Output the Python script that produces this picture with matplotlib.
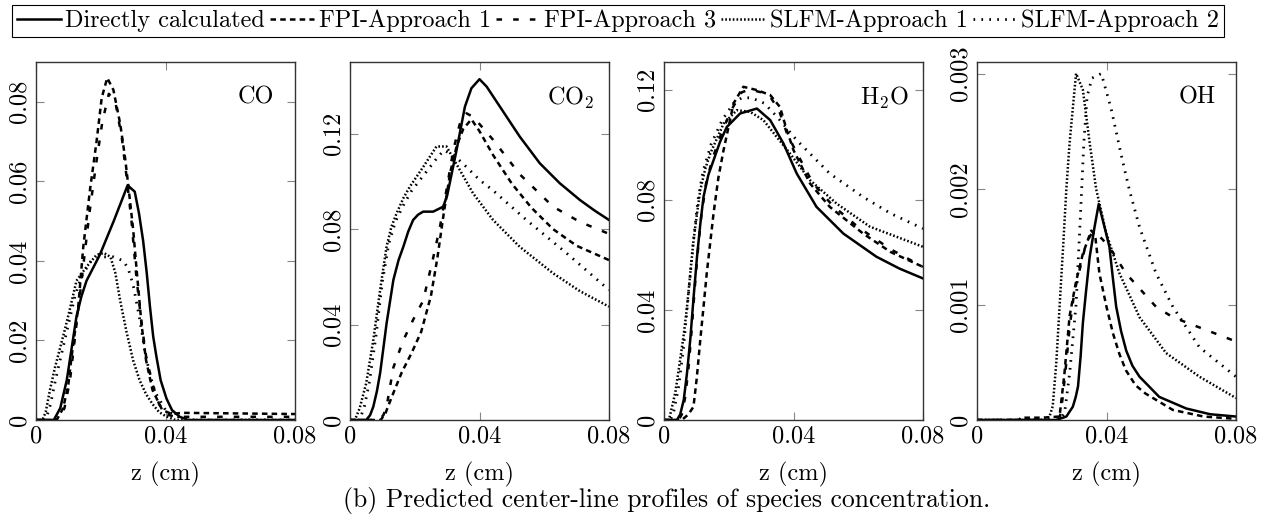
import numpy as np
import matplotlib
matplotlib.use("Agg")
import matplotlib.pyplot as plt

plt.rcParams['font.family'] = ['cmr10', 'DejaVu Serif']
plt.rcParams['mathtext.fontset'] = 'cm'
plt.rcParams['axes.formatter.use_mathtext'] = True
plt.rcParams['lines.scale_dashes'] = False

# series order: Directly calculated, FPI-Approach 1, FPI-Approach 3, SLFM-Approach 1, SLFM-Approach 2
labels = ["Directly calculated", "FPI-Approach 1", "FPI-Approach 3",
          "SLFM-Approach 1", "SLFM-Approach 2"]

# ---- CO (z [cm], mass fraction) ----
co_direct = [(0, 0), (0.0055, 0), (0.0075, 0.003), (0.0095, 0.010), (0.011, 0.018), (0.0125, 0.026),
             (0.014, 0.031), (0.0156, 0.035), (0.0197, 0.0415), (0.024, 0.050), (0.0283, 0.059),
             (0.0305, 0.0574), (0.0318, 0.052), (0.0331, 0.045), (0.0342, 0.037), (0.0352, 0.0285),
             (0.0362, 0.021), (0.0372, 0.0159), (0.0385, 0.010), (0.0403, 0.0054), (0.042, 0.0025),
             (0.0444, 0.0008), (0.047, 0), (0.08, 0)]
co_fpi1 = [(0, 0), (0.0064, 0), (0.0084, 0.003), (0.0100, 0.009), (0.011, 0.016), (0.012, 0.022),
           (0.013, 0.028), (0.0146, 0.0435), (0.0167, 0.058), (0.0187, 0.070), (0.0203, 0.081),
           (0.022, 0.086), (0.0239, 0.083), (0.026, 0.0745), (0.0275, 0.066), (0.0285, 0.059),
           (0.030, 0.048), (0.031, 0.0385), (0.0326, 0.024), (0.034, 0.015), (0.036, 0.0075),
           (0.039, 0.0025), (0.042, 0.0015), (0.045, 0.0018), (0.08, 0.0015)]
co_fpi3 = [(0, 0), (0.0068, 0), (0.0088, 0.003), (0.0105, 0.010), (0.0125, 0.024), (0.0145, 0.038),
           (0.0165, 0.052), (0.0185, 0.064), (0.0205, 0.075), (0.0225, 0.082), (0.0245, 0.080),
           (0.0265, 0.071), (0.028, 0.061), (0.0295, 0.050), (0.031, 0.036), (0.0325, 0.025),
           (0.034, 0.016), (0.036, 0.009), (0.038, 0.004), (0.040, 0.0015), (0.043, 0.0008),
           (0.08, 0.0008)]
co_slfm1 = [(0, 0), (0.002, 0), (0.003, 0.002), (0.0043, 0.0075), (0.0058, 0.013), (0.0074, 0.018),
            (0.009, 0.023), (0.0105, 0.028), (0.0125, 0.035), (0.0156, 0.0385), (0.0187, 0.0415),
            (0.021, 0.042), (0.023, 0.041), (0.0245, 0.037), (0.026, 0.030), (0.028, 0.022),
            (0.030, 0.015), (0.032, 0.010), (0.034, 0.0065), (0.036, 0.004), (0.038, 0.002),
            (0.040, 0.001), (0.043, 0), (0.08, 0)]
co_slfm2 = [(0, 0), (0.003, 0), (0.0045, 0.004), (0.006, 0.010), (0.008, 0.017), (0.010, 0.024),
            (0.012, 0.031), (0.014, 0.036), (0.017, 0.040), (0.020, 0.041), (0.024, 0.041),
            (0.027, 0.040), (0.0285, 0.038), (0.030, 0.034), (0.0319, 0.026), (0.0339, 0.016),
            (0.036, 0.009), (0.037, 0.0067), (0.040, 0.0025), (0.044, 0.0008), (0.048, 0), (0.08, 0)]

# ---- CO2 ----
co2_direct = [(0, 0), (0.005, 0), (0.0062, 0.002), (0.0072, 0.0056), (0.0083, 0.012), (0.0093, 0.0196),
              (0.0103, 0.030), (0.0113, 0.0405), (0.0124, 0.050), (0.0134, 0.0587), (0.015, 0.067),
              (0.0165, 0.0727), (0.018, 0.079), (0.0195, 0.0838), (0.021, 0.086), (0.0226, 0.0873),
              (0.0257, 0.0873), (0.0288, 0.0894), (0.030, 0.094), (0.0308, 0.0992), (0.0329, 0.113),
              (0.0355, 0.1313), (0.0375, 0.139), (0.040, 0.1428), (0.0422, 0.1397), (0.0463, 0.1313),
              (0.0524, 0.1188), (0.0586, 0.1076), (0.0648, 0.0992), (0.071, 0.0922), (0.0755, 0.0878),
              (0.08, 0.0838)]
co2_fpi1 = [(0, 0), (0.0095, 0), (0.011, 0.003), (0.013, 0.010), (0.016, 0.020), (0.019, 0.028),
            (0.022, 0.037), (0.025, 0.052), (0.027, 0.068), (0.029, 0.087), (0.031, 0.104),
            (0.033, 0.115), (0.035, 0.122), (0.0375, 0.126), (0.040, 0.121), (0.0442, 0.111),
            (0.050, 0.099), (0.056, 0.089), (0.0627, 0.080), (0.070, 0.073), (0.08, 0.067)]
co2_fpi3 = [(0, 0), (0.009, 0), (0.0103, 0.002), (0.0113, 0.0056), (0.0134, 0.022), (0.0165, 0.0335),
            (0.0195, 0.042), (0.0226, 0.050), (0.0257, 0.068), (0.0278, 0.081), (0.0298, 0.0964),
            (0.0319, 0.113), (0.0339, 0.124), (0.036, 0.1285), (0.038, 0.127), (0.040, 0.124),
            (0.0442, 0.1174), (0.0524, 0.103), (0.0627, 0.0894), (0.071, 0.083), (0.08, 0.078)]
co2_slfm1 = [(0, 0), (0.0015, 0), (0.003, 0.005), (0.005, 0.0154), (0.0072, 0.0335), (0.0093, 0.0545),
             (0.0113, 0.0727), (0.0128, 0.081), (0.0144, 0.0866), (0.0165, 0.093), (0.0185, 0.0978),
             (0.0226, 0.106), (0.0267, 0.1146), (0.0298, 0.1146), (0.0339, 0.1048), (0.038, 0.095),
             (0.0442, 0.0838), (0.0524, 0.0726), (0.0627, 0.0615), (0.071, 0.054), (0.08, 0.0475)]
co2_slfm2 = [(0, 0), (0.003, 0), (0.0045, 0.006), (0.006, 0.016), (0.008, 0.035), (0.010, 0.058),
             (0.012, 0.074), (0.014, 0.083), (0.0165, 0.090), (0.019, 0.096), (0.023, 0.103),
             (0.027, 0.110), (0.029, 0.113), (0.032, 0.111), (0.036, 0.106), (0.040, 0.1006),
             (0.044, 0.0964), (0.0545, 0.0838), (0.0668, 0.070), (0.08, 0.0545)]

# ---- H2O ----
h2o_direct = [(0, 0), (0.004, 0), (0.005, 0.002), (0.0061, 0.0073), (0.0071, 0.017), (0.0081, 0.029),
              (0.0091, 0.044), (0.0102, 0.0593), (0.0112, 0.071), (0.0122, 0.081), (0.0137, 0.089),
              (0.0153, 0.0943), (0.0173, 0.101), (0.0194, 0.1064), (0.0235, 0.1113), (0.0287, 0.1131),
              (0.0328, 0.1089), (0.0369, 0.1004), (0.041, 0.0895), (0.0471, 0.0774), (0.0554, 0.0677),
              (0.0656, 0.0593), (0.0727, 0.055), (0.08, 0.0514)]
h2o_fpi1 = [(0, 0), (0.0055, 0), (0.0075, 0.002), (0.0091, 0.0048), (0.0101, 0.015), (0.0112, 0.029),
            (0.0122, 0.041), (0.0132, 0.0532), (0.0153, 0.075), (0.0168, 0.088), (0.0184, 0.098),
            (0.0215, 0.115), (0.0245, 0.121), (0.0287, 0.1198), (0.0328, 0.118), (0.0358, 0.1137),
            (0.038, 0.105), (0.040, 0.098), (0.0451, 0.0859), (0.0512, 0.0774), (0.0615, 0.0677),
            (0.070, 0.061), (0.08, 0.0556)]
h2o_fpi3 = [(0, 0), (0.0045, 0), (0.0055, 0.002), (0.0065, 0.008), (0.0075, 0.018), (0.0085, 0.032),
            (0.0095, 0.048), (0.0105, 0.062), (0.0115, 0.074), (0.013, 0.086), (0.015, 0.095),
            (0.018, 0.105), (0.021, 0.113), (0.024, 0.119), (0.0265, 0.120), (0.030, 0.119),
            (0.033, 0.117), (0.0355, 0.1125), (0.038, 0.104), (0.041, 0.097), (0.046, 0.086),
            (0.052, 0.078), (0.060, 0.070), (0.070, 0.062), (0.08, 0.0556)]
h2o_slfm1 = [(0, 0), (0.0015, 0), (0.002, 0.0024), (0.0035, 0.010), (0.005, 0.022), (0.0061, 0.031),
             (0.0071, 0.041), (0.0081, 0.053), (0.0091, 0.065), (0.0102, 0.075), (0.0112, 0.0835),
             (0.0127, 0.091), (0.0143, 0.0968), (0.0184, 0.1076), (0.0225, 0.1125), (0.0266, 0.1119),
             (0.0307, 0.1089), (0.0348, 0.1028), (0.0389, 0.0968), (0.0451, 0.0871), (0.0533, 0.0786),
             (0.0636, 0.0702), (0.08, 0.0629)]
h2o_slfm2 = [(0, 0), (0.002, 0), (0.003, 0.003), (0.0045, 0.012), (0.006, 0.026), (0.0075, 0.045),
             (0.009, 0.064), (0.0105, 0.080), (0.012, 0.090), (0.0145, 0.100), (0.018, 0.109),
             (0.0215, 0.115), (0.024, 0.117), (0.027, 0.117), (0.031, 0.115), (0.035, 0.110),
             (0.041, 0.1016), (0.0512, 0.0895), (0.0615, 0.081), (0.070, 0.075), (0.08, 0.0695)]

# ---- OH ----
oh_direct = [(0, 0), (0.0245, 0), (0.0276, 0.00003), (0.0296, 0.000115), (0.0305, 0.0002),
             (0.0312, 0.00029), (0.032, 0.00055), (0.0327, 0.00084), (0.0337, 0.00112),
             (0.0348, 0.00141), (0.0363, 0.00167), (0.0376, 0.00187), (0.0394, 0.00167),
             (0.0409, 0.0015), (0.042, 0.00122), (0.043, 0.00098), (0.0445, 0.00077),
             (0.0461, 0.0006), (0.048, 0.00047), (0.0502, 0.000375), (0.0563, 0.0002),
             (0.0646, 0.0001), (0.072, 0.00005), (0.08, 0.00003)]
oh_fpi1 = [(0, 0), (0.013, 0), (0.0135, 0.00002), (0.020, 0.00002), (0.0255, 0.00003), (0.027, 0.0004),
           (0.0286, 0.0009), (0.0306, 0.0012), (0.0327, 0.00144), (0.0353, 0.00164), (0.0365, 0.0016),
           (0.0378, 0.00127), (0.040, 0.00098), (0.042, 0.00075), (0.044, 0.00057), (0.046, 0.00043),
           (0.049, 0.0003), (0.052, 0.00023), (0.0605, 0.000087), (0.070, 0.00003), (0.08, 0.00001)]
oh_fpi3 = [(0, 0), (0.0255, 0), (0.0265, 0.0002), (0.0276, 0.0005), (0.0286, 0.0008), (0.030, 0.0011),
           (0.0317, 0.0013), (0.0337, 0.00153), (0.0355, 0.00162), (0.0375, 0.0016), (0.0389, 0.00156),
           (0.042, 0.00145), (0.046, 0.00127), (0.0553, 0.00098), (0.0605, 0.00089), (0.0707, 0.00078),
           (0.08, 0.00068)]
oh_slfm1 = [(0, 0), (0.021, 0), (0.0224, 0.00003), (0.0234, 0.00012), (0.0245, 0.0005), (0.0255, 0.00098),
            (0.0266, 0.0015), (0.0276, 0.002), (0.0286, 0.0024), (0.0296, 0.0027), (0.0306, 0.003),
            (0.0327, 0.00286), (0.0348, 0.0024), (0.0368, 0.002), (0.0399, 0.00162), (0.044, 0.00127),
            (0.0502, 0.00089), (0.0584, 0.00058), (0.0687, 0.000375), (0.08, 0.00019)]
oh_slfm2 = [(0, 0), (0.025, 0), (0.027, 0.00005), (0.0286, 0.0004), (0.0306, 0.001), (0.032, 0.0018),
            (0.033, 0.0024), (0.034, 0.0028), (0.0355, 0.00296), (0.0384, 0.003), (0.0414, 0.0027),
            (0.0445, 0.0023), (0.047, 0.002), (0.0502, 0.00167), (0.0553, 0.00127), (0.0605, 0.00098),
            (0.0687, 0.00063), (0.08, 0.000375)]

species = [r"CO", r"CO$_2$", r"H$_2$O", r"OH"]
panels = [
    [co_direct, co_fpi1, co_fpi3, co_slfm1, co_slfm2],
    [co2_direct, co2_fpi1, co2_fpi3, co2_slfm1, co2_slfm2],
    [h2o_direct, h2o_fpi1, h2o_fpi3, h2o_slfm1, h2o_slfm2],
    [oh_direct, oh_fpi1, oh_fpi3, oh_slfm1, oh_slfm2],
]
ymax = [0.09, 0.15, 0.13, 0.0031]
yticks = [[0, 0.02, 0.04, 0.06, 0.08], [0, 0.04, 0.08, 0.12],
          [0, 0.04, 0.08, 0.12], [0, 0.001, 0.002, 0.003]]
yticklabels = [["0", "0.02", "0.04", "0.06", "0.08"], ["0", "0.04", "0.08", "0.12"],
               ["0", "0.04", "0.08", "0.12"], ["0", "0.001", "0.002", "0.003"]]
xticks = [0, 0.04, 0.08]
xticklabels = ["0", "0.04", "0.08"]

styles = [dict(linestyle="-", lw=1.8),
          dict(linestyle=(0, (4, 3)), lw=1.8),
          dict(linestyle=(0, (4, 8)), lw=1.8),
          dict(linestyle=(0, (1.2, 1.5)), lw=1.8),
          dict(linestyle=(0, (1.2, 4.5)), lw=2.0)]

fs = 17.5
W, H = 1270, 522
fig = plt.figure(figsize=(W / 100, H / 100), dpi=100)
lefts = [36, 350, 664, 977]
axw, top, bot = 259, 62, 420

handles = []
for i in range(4):
    ax = fig.add_axes([lefts[i] / W, 1 - bot / H, axw / W, (bot - top) / H])
    for j, series in enumerate(panels[i]):
        d = np.array(series)
        ln, = ax.plot(d[:, 0], d[:, 1], color="black", **styles[j])
        if i == 0:
            handles.append(ln)
    ax.set_xlim(0, 0.08)
    ax.set_ylim(0, ymax[i])
    ax.set_xticks(xticks)
    ax.set_xticklabels(xticklabels)
    ax.set_yticks(yticks[i])
    ax.set_yticklabels(yticklabels[i], rotation=90, va="center")
    ax.tick_params(direction="in", top=True, right=True, length=6, width=0.8,
                   color="#888888", labelsize=fs, pad=4)
    for sp in ax.spines.values():
        sp.set_color("#333333")
        sp.set_linewidth(1.0)
    ax.set_xlabel("z (cm)", fontsize=fs, labelpad=10)
    ax.text(0.85, 0.90, species[i], transform=ax.transAxes, ha="center", va="center", fontsize=fs)

leg = fig.legend(handles, labels, loc="upper left", bbox_to_anchor=(12 / W, 1 - 5 / H),
                 borderaxespad=0, ncol=5, fontsize=fs, handlelength=1.8, handletextpad=0.2,
                 columnspacing=0.2, borderpad=0.2, fancybox=False, edgecolor="black", framealpha=1)
leg.get_frame().set_linewidth(0.8)

fig.text(667 / W, 1 - 501 / H, "(b) Predicted center-line profiles of species concentration.",
         ha="center", va="center", fontsize=18.5)

plt.savefig("out.png", dpi=100)
